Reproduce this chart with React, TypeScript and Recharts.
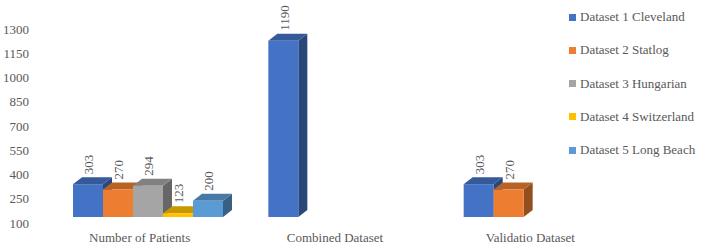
import React from "react";
import { BarChart, Bar, XAxis, YAxis, LabelList } from "recharts";

const categories = ["Number of Patients", "Combined Dataset", "Validatio Dataset"];
const seriesNames = [
    "Dataset 1 Cleveland",
    "Dataset 2 Statlog",
    "Dataset 3 Hungarian",
    "Dataset 4 Switzerland",
    "Dataset 5 Long Beach",
];
const dataset1 = [303, 1190, 303];
const dataset2 = [270, null, 270];
const dataset3 = [294, null, null];
const dataset4 = [123, null, null];
const dataset5 = [200, null, null];
const yTicks = [100, 250, 400, 550, 700, 850, 1000, 1150, 1300];
const colors = ["#4472C4", "#ED7D31", "#A5A5A5", "#FFC000", "#5B9BD5"];

const FONT = "Liberation Serif, DejaVu Serif, serif";
const TEXT = "#595959";
const DX = 9;
const DY = 7;

const allSeries = [dataset1, dataset2, dataset3, dataset4, dataset5];
const data = categories.map((name, i) => {
    const row: any = { name };
    allSeries.forEach((s, k) => {
        row["d" + k] = s[i];
    });
    return row;
});

const shade = (hex: string, f: number) => {
    const n = parseInt(hex.slice(1), 16);
    const r = Math.round(((n >> 16) & 255) * f);
    const g = Math.round(((n >> 8) & 255) * f);
    const b = Math.round((n & 255) * f);
    return `rgb(${r},${g},${b})`;
};

const Bar3D = (props: any) => {
    const { x, y, width, height, fill, value } = props;
    const v = Array.isArray(value) ? value[1] : value;
    if (v == null || !width || height == null) return null;
    const r = x + width;
    const b = y + height;
    return (
        <g>
            <polygon
                points={`${r},${y} ${r + DX},${y - DY} ${r + DX},${b - DY} ${r},${b}`}
                fill={shade(fill, 0.62)}
            />
            <polygon
                points={`${x},${y} ${x + DX},${y - DY} ${r + DX},${y - DY} ${r},${y}`}
                fill={shade(fill, 0.78)}
            />
            <rect x={x} y={y} width={width} height={height} fill={fill} />
        </g>
    );
};

const ValueLabel = (props: any) => {
    const { x, y, width, value } = props;
    if (value == null) return null;
    const cx = x + width / 2 + 1;
    const ty = y - DY - 3;
    return (
        <text
            x={cx}
            y={ty}
            transform={`rotate(-90, ${cx}, ${ty})`}
            textAnchor="start"
            dominantBaseline="central"
            fontFamily={FONT}
            fontSize={13}
            fill={TEXT}
        >
            {value}
        </text>
    );
};

const YTick = (props: any) => {
    const { y, payload } = props;
    return (
        <text x={29} y={y + 6} textAnchor="end" dominantBaseline="central"
            fontFamily={FONT} fontSize={13} fill={TEXT}>
            {payload.value}
        </text>
    );
};

const XTick = (props: any) => {
    const { x, payload } = props;
    return (
        <text x={x - 8} y={237} textAnchor="middle" dominantBaseline="central"
            fontFamily={FONT} fontSize={13} fill={TEXT}>
            {payload.value}
        </text>
    );
};

export default function App() {
    return (
        <div style={{ position: "absolute", left: 0, top: 0, width: 708, height: 247, background: "#fff" }}>
            <BarChart
                width={708}
                height={247}
                data={data}
                margin={{ top: 23, right: 72, left: 0, bottom: 0 }}
                barGap={0}
                barSize={30}
            >
                <XAxis dataKey="name" axisLine={false} tickLine={false} height={30} tick={<XTick />} />
                <YAxis
                    domain={[100, 1300]}
                    ticks={yTicks}
                    width={50}
                    axisLine={false}
                    tickLine={false}
                    tick={<YTick />}
                />
                {seriesNames.map((s, k) => (
                    <Bar
                        key={s}
                        dataKey={"d" + k}
                        name={s}
                        fill={colors[k]}
                        shape={<Bar3D />}
                        isAnimationActive={false}
                    >
                        <LabelList dataKey={"d" + k} content={<ValueLabel />} />
                    </Bar>
                ))}
            </BarChart>
            <div style={{ position: "absolute", left: 569, top: 0 }}>
                {seriesNames.map((s, k) => (
                    <div
                        key={s}
                        style={{
                            position: "absolute",
                            top: 17 + k * 33.3 - 8,
                            left: 0,
                            height: 16,
                            display: "flex",
                            alignItems: "center",
                            whiteSpace: "nowrap",
                            fontFamily: FONT,
                            fontSize: 13,
                            color: TEXT,
                        }}
                    >
                        <span style={{ width: 7, height: 7, background: colors[k], marginRight: 4, display: "inline-block" }} />
                        {s}
                    </div>
                ))}
            </div>
        </div>
    );
}
